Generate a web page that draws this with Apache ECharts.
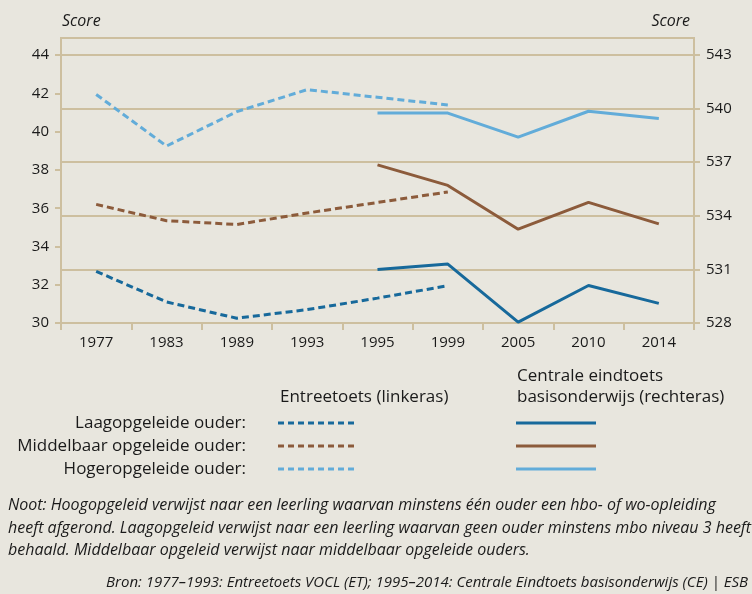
<!DOCTYPE html>
<html>
<head>
<meta charset="utf-8">
<script src="https://cdn.jsdelivr.net/npm/echarts@6/dist/echarts.min.js"></script>
<style>
  html, body { margin: 0; padding: 0; background: #e8e6de; }
  #chart { width: 752px; height: 594px; }
</style>
</head>
<body>
<div id="chart"></div>
<script>
var years = ["1977", "1983", "1989", "1993", "1995", "1999", "2005", "2010", "2014"];

// Entreetoets (linkeras)
var etLaag = [32.7, 31.1, 30.25, 30.7, 31.3, 31.95, "-", "-", "-"];
var etMidden = [36.2, 35.35, 35.15, 35.75, 36.3, 36.85, "-", "-", "-"];
var etHoog = [41.95, 39.25, 41.05, 42.2, 41.8, 41.4, "-", "-", "-"];

// Centrale eindtoets (rechteras)
var ceLaag = ["-", "-", "-", "-", 531.0, 531.3, 528.05, 530.1, 529.1];
var ceMidden = ["-", "-", "-", "-", 536.85, 535.7, 533.25, 534.75, 533.55];
var ceHoog = ["-", "-", "-", "-", 539.75, 539.75, 538.4, 539.85, 539.45];

var leftTicks = [30, 32, 34, 36, 38, 40, 42, 44];
var rightTicks = [528, 531, 534, 537, 540, 543];

var cDark = "#17699b";
var cBrown = "#8c5b3b";
var cLight = "#62acd9";
var cAxis = "#cdbf9f";
var font = "'Open Sans', sans-serif";

var dash = [7, 4];

function line(name, data, color, axis, dashed) {
  return {
    name: name,
    type: "line",
    yAxisIndex: axis,
    data: data,
    symbol: "none",
    silent: true,
    lineStyle: { color: color, width: 3, type: dashed ? dash : "solid" }
  };
}

var rows = [
  { label: "Laagopgeleide ouder:", color: cDark, y: 423 },
  { label: "Middelbaar opgeleide ouder:", color: cBrown, y: 446 },
  { label: "Hogeropgeleide ouder:", color: cLight, y: 469 }
];

// legend drawn by hand: two columns of samples
var legendGraphics = [];
rows.forEach(function (r) {
  legendGraphics.push({
    type: "text", x: 246, y: r.y,
    style: { text: r.label, font: "17px " + font, fill: "#1a1a1a", textAlign: "right", textVerticalAlign: "middle" }
  });
  legendGraphics.push({
    type: "line", shape: { x1: 278, y1: r.y, x2: 357, y2: r.y },
    style: { stroke: r.color, lineWidth: 3, lineDash: [6, 4] }
  });
  legendGraphics.push({
    type: "line", shape: { x1: 516, y1: r.y, x2: 596, y2: r.y },
    style: { stroke: r.color, lineWidth: 3 }
  });
});

var myChart = echarts.init(document.getElementById("chart"));
var option = {
  backgroundColor: "#e8e6de",
  animation: false,
  grid: {
    left: 61, right: 58, top: 38, bottom: 271,
    show: true, borderColor: cAxis, borderWidth: 2, backgroundColor: "transparent"
  },
  xAxis: {
    type: "category",
    data: years,
    boundaryGap: true,
    axisLine: { lineStyle: { color: cAxis, width: 2 } },
    axisTick: { show: true, length: 7, lineStyle: { color: cAxis, width: 2 } },
    axisLabel: { color: "#1a1a1a", fontSize: 15, fontFamily: font, margin: 12 }
  },
  yAxis: [
    {
      type: "value",
      position: "left",
      min: 30, max: 44.9, interval: 2,
      splitLine: { show: false },
      axisLine: { show: true, lineStyle: { color: cAxis, width: 2 } },
      axisTick: { show: true, length: 6, customValues: leftTicks, lineStyle: { color: cAxis, width: 2 } },
      axisLabel: { color: "#1a1a1a", fontSize: 15, fontFamily: font, margin: 12, customValues: leftTicks }
    },
    {
      type: "value",
      position: "right",
      min: 528, max: 543.95, interval: 3,
      splitLine: { show: true, lineStyle: { color: cAxis, width: 2 } },
      axisLine: { show: true, lineStyle: { color: cAxis, width: 2 } },
      axisTick: { show: true, length: 6, customValues: rightTicks, lineStyle: { color: cAxis, width: 2 } },
      axisLabel: { color: "#1a1a1a", fontSize: 15, fontFamily: font, margin: 12, customValues: rightTicks }
    }
  ],
  series: [
    line("Entreetoets laag", etLaag, cDark, 0, true),
    line("Entreetoets middelbaar", etMidden, cBrown, 0, true),
    line("Entreetoets hoog", etHoog, cLight, 0, true),
    line("Eindtoets laag", ceLaag, cDark, 1, false),
    line("Eindtoets middelbaar", ceMidden, cBrown, 1, false),
    line("Eindtoets hoog", ceHoog, cLight, 1, false)
  ],
  graphic: [
    { type: "text", x: 62, y: 21, style: { text: "Score", font: "italic 16px " + font, fill: "#1a1a1a", textVerticalAlign: "middle" } },
    { type: "text", x: 690, y: 21, style: { text: "Score", font: "italic 16px " + font, fill: "#1a1a1a", textAlign: "right", textVerticalAlign: "middle" } },
    { type: "text", x: 280, y: 397, style: { text: "Entreetoets (linkeras)", font: "17px " + font, fill: "#1a1a1a", textVerticalAlign: "middle" } },
    { type: "text", x: 517, y: 376, style: { text: "Centrale eindtoets", font: "17px " + font, fill: "#1a1a1a", textVerticalAlign: "middle" } },
    { type: "text", x: 517, y: 397, style: { text: "basisonderwijs (rechteras)", font: "17px " + font, fill: "#1a1a1a", textVerticalAlign: "middle" } },
    { type: "text", x: 8, y: 505, style: { text: "Noot: Hoogopgeleid verwijst naar een leerling waarvan minstens één ouder een hbo- of wo-opleiding", font: "italic 16px " + font, fill: "#1a1a1a", textVerticalAlign: "middle" } },
    { type: "text", x: 8, y: 528, style: { text: "heeft afgerond. Laagopgeleid verwijst naar een leerling waarvan geen ouder minstens mbo niveau 3 heeft", font: "italic 16px " + font, fill: "#1a1a1a", textVerticalAlign: "middle" } },
    { type: "text", x: 8, y: 550, style: { text: "behaald. Middelbaar opgeleid verwijst naar middelbaar opgeleide ouders.", font: "italic 16px " + font, fill: "#1a1a1a", textVerticalAlign: "middle" } },
    { type: "text", x: 748, y: 583, style: { text: "Bron: 1977–1993: Entreetoets VOCL (ET); 1995–2014: Centrale Eindtoets basisonderwijs (CE) | ESB", font: "italic 15px " + font, fill: "#1a1a1a", textAlign: "right", textVerticalAlign: "middle" } }
  ].concat(legendGraphics)
};
myChart.setOption(option);
</script>
</body>
</html>
